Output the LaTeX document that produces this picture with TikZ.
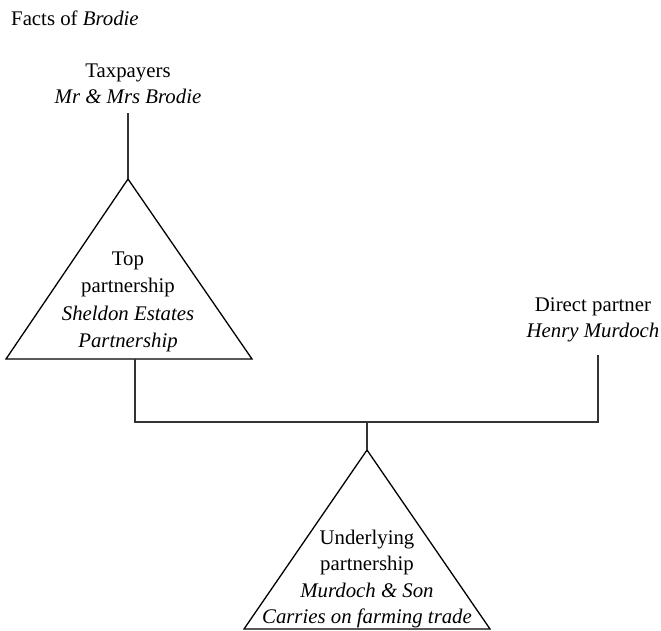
\documentclass[tikz,border=0pt]{standalone}
\usepackage{fontspec}
\setmainfont{LiberationSerif}[Extension=.ttf,UprightFont=*-Regular,ItalicFont=*-Italic,BoldFont=*-Bold,BoldItalicFont=*-BoldItalic]
\begin{document}
\begin{tikzpicture}[x=1pt,y=-1pt,
  lbl/.style={align=center,inner sep=0pt,font=\fontsize{20.8}{26.5}\selectfont},
  tri/.style={draw=black,line width=1.3pt,line join=miter},
  conn/.style={draw=black!80,line width=1.2pt}]
\useasboundingbox (0,0) rectangle (661,630);
% title
\node[lbl,anchor=base west] (title) at (11,25) {Facts of \textit{Brodie}};
% taxpayers
\node[lbl] (tax) at (128,84) {Taxpayers\\\textit{Mr \& Mrs Brodie}};
\coordinate (taxfoot) at (128,113);
% top partnership triangle
\coordinate (topapex) at (128,179);
\coordinate (topleft) at (6,359);
\coordinate (topright) at (252,359);
\draw[tri] (topapex) -- (topright) -- (topleft) -- cycle;
\node[lbl,font=\fontsize{20.8}{27.5}\selectfont] (top) at (128,302) {Top\\partnership\\\textit{Sheldon Estates}\\\textit{Partnership}};
% direct partner
\node[lbl] (direct) at (593,320) {Direct partner\\\textit{Henry Murdoch}};
\coordinate (directfoot) at (598,355);
% underlying triangle
\coordinate (lowapex) at (367,450);
\coordinate (lowleft) at (244,629);
\coordinate (lowright) at (490,629);
\draw[tri] (lowapex) -- (lowright) -- (lowleft) -- cycle;
\node[lbl] (low) at (367,579) {Underlying\\partnership\\\textit{Murdoch \& Son}\\\textit{Carries on farming trade}};
% connectors
\coordinate (topfoot) at (135,359);
\coordinate (joinL) at (135,422);
\coordinate (joinR) at (598,422);
\coordinate (joinM) at (367,422);
\draw[conn] (taxfoot) -- (topapex);
\draw[conn] (topfoot) -- (joinL) -- (joinR) -- (directfoot);
\draw[conn] (joinM) -- (lowapex);
\end{tikzpicture}
\end{document}
